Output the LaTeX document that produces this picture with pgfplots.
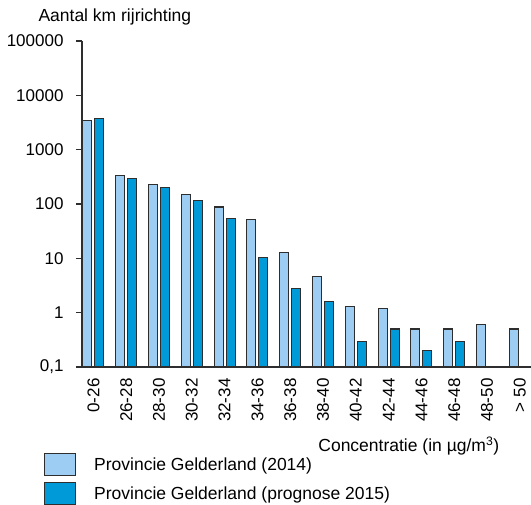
\documentclass[border=0pt]{standalone}
\usepackage{fontspec}
\setmainfont{Liberation Sans}
\usepackage{pgfplots}
\pgfplotsset{compat=1.18}
\definecolor{lightbar}{HTML}{9DCDF2}
\definecolor{darkbar}{HTML}{009AD9}
\definecolor{barline}{HTML}{2E2E2E}

\begin{document}
\begin{tikzpicture}[font=\fontsize{17.5bp}{20bp}\selectfont]
  \begin{axis}[
      name=ax,
      scale only axis,
      width=449bp, height=326bp,
      ymode=log, log origin=infty,
      ymin=0.1, ymax=100000,
      xmin=-0.348, xmax=13.34,
      ybar=3bp, bar width=9bp,
      axis x line=bottom, axis y line=left,
      axis line style={-, line width=1.2bp, draw=barline},
      ytick={0.1,1,10,100,1000,10000,100000},
      yticklabels={{0,1},1,10,100,1000,10000,100000},
      yticklabel style={xshift=-9bp, font=\fontsize{17bp}{20bp}\selectfont},
      xtick={0,...,13},
      xticklabels={0-26,26-28,28-30,30-32,32-34,34-36,36-38,38-40,40-42,42-44,44-46,46-48,48-50,> 50},
      xticklabel style={rotate=90, anchor=east, xshift=-2bp, font=\fontsize{17bp}{20bp}\selectfont},
      major x tick style={draw=none},
      tick align=outside, major tick length=6bp,
      major y tick style={line width=1.2bp, draw=barline},
      yminorticks=false,
      /pgf/number format/assume math mode=true,
      clip=false,
      legend style={at={(rel axis cs:0,0)}, anchor=north west, xshift=-38bp, yshift=-86bp,
        draw=none, fill=none, inner sep=0pt, row sep=6bp,
        font=\fontsize{17.5bp}{20bp}\selectfont,
        /tikz/every odd column/.append style={column sep=16bp}},
      legend cell align=left,
    ]
    \addplot[fill=lightbar, draw=barline, line width=1.1bp,
      legend image code/.code={\draw[fill=lightbar, draw=barline, line width=1bp] (0bp,-11bp) rectangle (31bp,11bp);}]
      coordinates {(0,3500)(1,330)(2,225)(3,150)(4,88)(5,51)(6,12.9)(7,4.7)(8,1.3)(9,1.2)(10,0.5)(11,0.5)(12,0.6)(13,0.5)};
    \addlegendentry{Provincie Gelderland (2014)}
    \addplot[fill=darkbar, draw=barline, line width=1.1bp,
      legend image code/.code={\draw[fill=darkbar, draw=barline, line width=1bp] (0bp,-11bp) rectangle (31bp,11bp);}]
      coordinates {(0,3750)(1,292)(2,202)(3,118)(4,54)(5,10.4)(6,2.8)(7,1.6)(8,0.3)(9,0.5)(10,0.2)(11,0.3)(12,0.1)(13,0.1)};
    \addlegendentry{Provincie Gelderland (prognose 2015)}
    \node[anchor=west, xshift=-47bp, yshift=24bp] at (rel axis cs:0,1) {Aantal km rijrichting};
    \node[anchor=east, yshift=-79bp] at (rel axis cs:0.937,0) {Concentratie (in µg/m\textsuperscript{3})};
  \end{axis}
  \pgfresetboundingbox
  \path (ax.south west) ++(-82bp,-138bp) rectangle ++(531bp,505bp);
\end{tikzpicture}
\end{document}
